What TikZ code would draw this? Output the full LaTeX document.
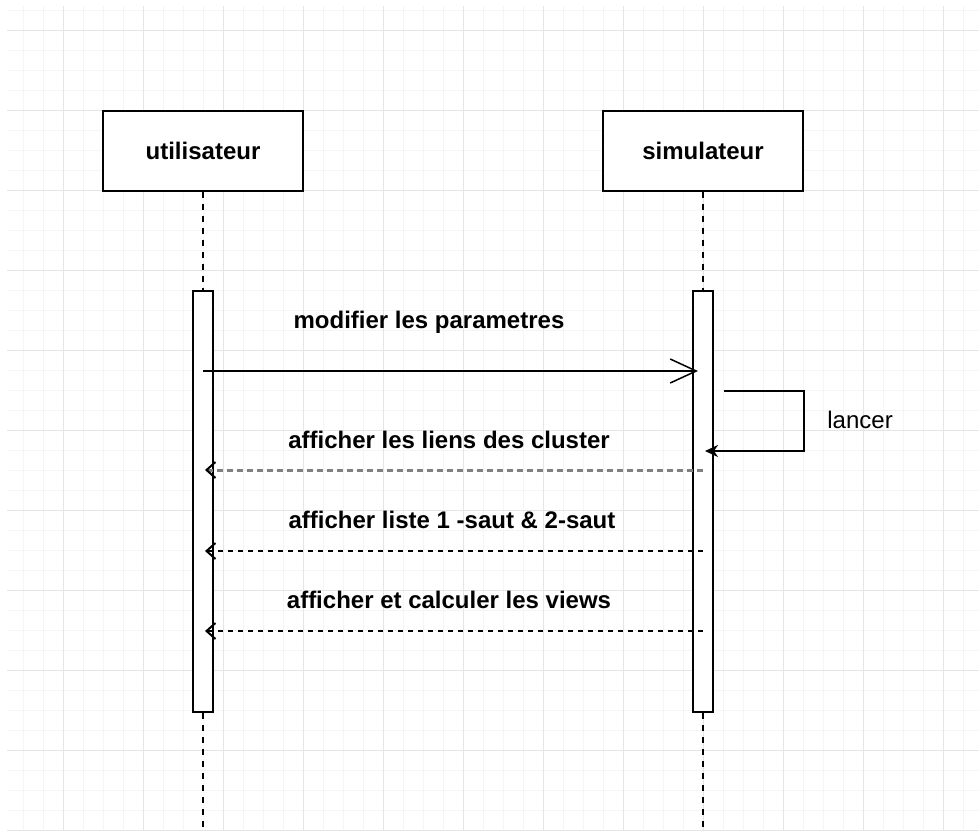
\documentclass[tikz,border=0pt]{standalone}
\usepackage{fontspec}
\setmainfont{Liberation Sans}
\usetikzlibrary{positioning,arrows.meta,calc}

\begin{document}
\begin{tikzpicture}[
  x=0.5pt, y=-0.5pt,
  minorgrid/.style={draw=black!4, line width=0.5pt},
  majorgrid/.style={draw=black!10, line width=0.5pt},
  actor/.style={draw, line width=1pt, fill=white, minimum width=100pt, minimum height=40pt, font=\fontsize{12}{14}\selectfont\bfseries},
  activation/.style={draw, line width=1pt, fill=white, minimum width=10pt, minimum height=210.5pt},
  lifeline/.style={line width=1pt, dash pattern=on 3pt off 3pt},
  call/.style={line width=0.75pt, shorten >=2.5pt, -{Straight Barb[length=13pt, width=12pt, line width=0.75pt]}},
  selfcall/.style={line width=1pt, shorten >=1pt, -{Stealth[length=6.5pt, width=6pt, inset=2pt]}},
  reply/.style={line width=0.75pt, dash pattern=on 2.5pt off 2.5pt, shorten >=1pt, -{Straight Barb[length=4.5pt, width=8pt, line width=1pt, black]}},
  msglabel/.style={anchor=base, inner sep=0pt, font=\fontsize{12}{14}\selectfont\bfseries}
]
\useasboundingbox[fill=white] (0,0) rectangle (979,831);

% Background grid
\foreach \gx in {23,43,...,979} \draw[minorgrid] (\gx,6) -- (\gx,831);
\foreach \gy in {10.5,30.5,...,831} \draw[minorgrid] (7,\gy) -- (979,\gy);
\foreach \gx in {63,143,...,979} \draw[majorgrid] (\gx,6) -- (\gx,831);
\foreach \gy in {30.5,110.5,...,831} \draw[majorgrid] (7,\gy) -- (979,\gy);

% Lifeline heads
\node[actor] (U) at (203,150.5) {utilisateur};
\node[actor] (S) at (703,150.5) {simulateur};

% Activation bars
\node[activation] (UA) at (203,501.5) {};
\node[activation] (SA) at (703,501.5) {};

% Message rows and lifeline ends
\coordinate (r1) at (0,371);
\coordinate (r2) at (0,391);
\coordinate (r3) at (0,451);
\coordinate (r4) at (0,470);
\coordinate (r5) at (0,551);
\coordinate (r6) at (0,631);
\coordinate (UE) at (203,831);
\coordinate (SE) at (703,831);

% Lifelines
\draw[lifeline] (U) -- (UA);
\draw[lifeline] (UA) -- (UE);
\draw[lifeline] (S) -- (SA);
\draw[lifeline] (SA) -- (SE);

% Messages
\draw[call] (UA |- r1) -- (SA |- r1);
\draw[selfcall] ([xshift=5pt]SA.east |- r2) -| (S.east |- r3) -- (SA |- r3);
\draw[reply, draw=black!50, line width=1.5pt, dash pattern=on 3pt off 2pt] (SA |- r4) -- (UA |- r4);
\draw[reply] (SA |- r5) -- (UA |- r5);
\draw[reply] (SA |- r6) -- (UA |- r6);

% Labels
\node[msglabel] (M1) at (429,328) {modifier les parametres};
\node[msglabel] (M2) at (449,448) {afficher les liens des cluster};
\node[msglabel] (M3) at (452,528) {afficher liste 1 -saut \& 2-saut};
\node[msglabel] (M4) at (449,608) {afficher et calculer les views};
\node[msglabel, anchor=base west, font=\fontsize{12}{14}\selectfont] (L) at (827,428) {lancer};
\end{tikzpicture}
\end{document}
